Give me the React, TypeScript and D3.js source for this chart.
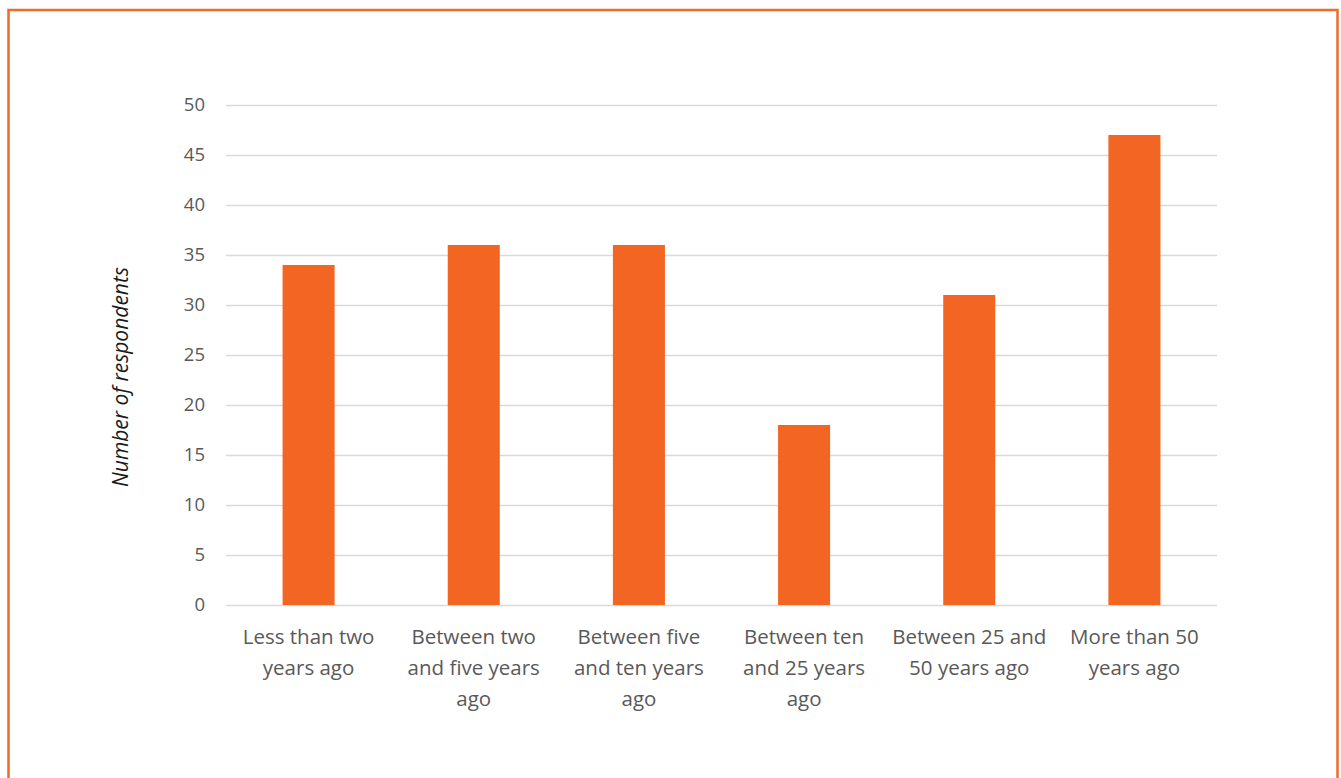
import * as d3 from "d3";
import { useEffect, useRef } from "react";

const categories = [
  "Less than two\nyears ago",
  "Between two\nand five years\nago",
  "Between five\nand ten years\nago",
  "Between ten\nand 25 years\nago",
  "Between 25 and\n50 years ago",
  "More than 50\nyears ago",
];
const respondents = [34, 36, 36, 18, 31, 47];
const yTicks = [0, 5, 10, 15, 20, 25, 30, 35, 40, 45, 50];
const yTitle = "Number of respondents";

const App = () => {
  const ref = useRef<SVGSVGElement>(null);
  const width = 1341;
  const height = 778;

  useEffect(() => {
    const margin = { top: 105, right: 124, bottom: 173, left: 226 };
    const svg = d3.select(ref.current);
    svg.selectAll("*").remove();

    const font = "'Open Sans', 'DejaVu Sans', sans-serif";
    const orange = "#f26522";

    // frame
    svg
      .append("rect")
      .attr("x", 8.5)
      .attr("y", 10)
      .attr("width", 1329)
      .attr("height", 820)
      .attr("fill", "white")
      .attr("stroke", "#f26a2a")
      .attr("stroke-width", 2.5);

    const xScale = d3
      .scaleBand()
      .domain(categories)
      .range([margin.left, width - margin.right])
      .paddingInner(0.685)
      .paddingOuter(0.3425);

    const yScale = d3
      .scaleLinear()
      .domain([0, 50])
      .range([height - margin.bottom, margin.top]);

    // Y axis + gridlines
    const yAxis = svg
      .append("g")
      .attr("transform", `translate(${margin.left}, 0)`)
      .call(
        d3
          .axisLeft(yScale)
          .tickValues(yTicks)
          .tickSize(-(width - margin.left - margin.right))
          .tickPadding(21)
      );
    yAxis.select(".domain").remove();
    yAxis
      .selectAll(".tick line")
      .attr("stroke", "#d9d9d9")
      .attr("stroke-width", 1.5);
    yAxis
      .selectAll(".tick text")
      .attr("fill", "#595959")
      .style("font-family", font)
      .style("font-size", "18.5px");

    // bars
    svg
      .append("g")
      .selectAll("rect")
      .data(respondents)
      .join("rect")
      .attr("x", (_, i) => xScale(categories[i])!)
      .attr("y", (d) => yScale(d))
      .attr("width", xScale.bandwidth())
      .attr("height", (d) => yScale(0) - yScale(d))
      .attr("fill", orange);

    // category labels
    const labels = svg
      .append("g")
      .selectAll("text")
      .data(categories)
      .join("text")
      .attr("x", (d) => xScale(d)! + xScale.bandwidth() / 2)
      .attr("y", height - margin.bottom + 39)
      .attr("text-anchor", "middle")
      .attr("fill", "#595959")
      .style("font-family", font)
      .style("font-size", "20.5px");
    labels
      .selectAll("tspan")
      .data((d) => d.split("\n"))
      .join("tspan")
      .attr("x", function () {
        return (this.parentNode as SVGTextElement).getAttribute("x");
      })
      .attr("dy", (_, i) => (i === 0 ? 0 : 31))
      .text((d) => d);

    // Y title
    svg
      .append("text")
      .attr("transform", `translate(128, 377) rotate(-90)`)
      .attr("text-anchor", "middle")
      .attr("fill", "#1a1a1a")
      .style("font-family", font)
      .style("font-size", "21px")
      .style("font-style", "italic")
      .text(yTitle);
  }, []);

  return (
    <div style={{ position: "absolute", top: 0, left: 0 }}>
      <svg
        ref={ref}
        width={width}
        height={height}
        style={{ display: "block" }}
      ></svg>
    </div>
  );
};

export default App;
